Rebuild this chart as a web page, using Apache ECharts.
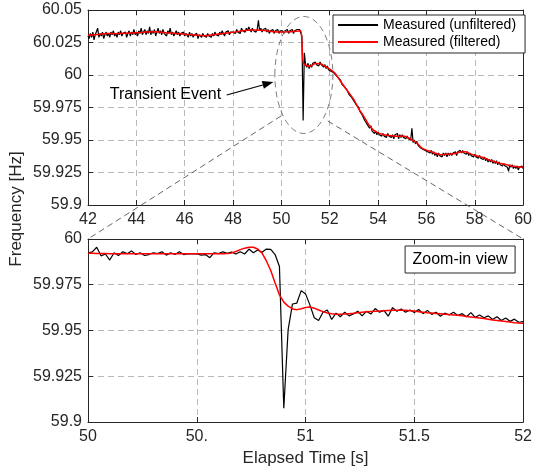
<!DOCTYPE html>
<html><head><meta charset="utf-8">
<script src="https://cdn.jsdelivr.net/npm/echarts@6/dist/echarts.min.js"></script>
<style>html,body{margin:0;padding:0;background:#fff}#c{width:535px;height:472px}</style>
</head><body><div id="c"></div>
<script>
// ---------------- data ----------------
const seriesNames = ['Measured (unfiltered)', 'Measured (filtered)'];
const yAxisTitle = 'Frequency [Hz]';
const xAxisTitle = 'Elapsed Time [s]';
const annotationText = 'Transient Event';
const zoomBoxText = 'Zoom-in view';

// overview: unfiltered samples every 0.05 s from 42 s
const topStart = 42, topStep = 0.05;
const topUnfiltered = [
60.030,60.028,60.032,60.029,60.033,60.027,60.031,60.030,60.036,60.029,60.032,60.030,60.033,60.028,60.031,60.033,60.030,60.032,60.029,60.033,
60.031,60.034,60.030,60.032,60.029,60.033,60.031,60.034,60.030,60.032,60.031,60.033,60.029,60.032,60.034,60.030,60.033,60.031,60.035,60.031,
60.033,60.030,60.034,60.032,60.036,60.031,60.033,60.035,60.031,60.034,60.032,60.037,60.031,60.034,60.032,60.035,60.030,60.033,60.036,60.032,
60.034,60.031,60.035,60.032,60.033,60.030,60.034,60.032,60.036,60.031,60.033,60.030,60.032,60.034,60.031,60.033,60.030,60.032,60.031,60.033,
60.030,60.032,60.031,60.029,60.033,60.030,60.032,60.029,60.031,60.030,60.032,60.028,60.031,60.030,60.029,60.032,60.030,60.031,60.029,60.032,
60.030,60.031,60.029,60.032,60.030,60.033,60.031,60.032,60.030,60.033,60.031,60.034,60.032,60.030,60.033,60.032,60.034,60.031,60.033,60.032,
60.033,60.034,60.032,60.035,60.033,60.034,60.032,60.036,60.034,60.035,60.033,60.036,60.034,60.037,60.035,60.033,60.036,60.034,60.035,60.033,
60.035,60.042,60.034,60.036,60.033,60.035,60.034,60.036,60.033,60.035,60.032,60.034,60.033,60.035,60.032,60.034,60.033,60.035,60.032,60.034,
60.033,60.034,60.032,60.034,60.033,60.035,60.032,60.034,60.033,60.035,60.032,60.034,60.033,60.035,60.034,60.035,60.036,60.030,59.965,60.017,
60.008,60.006,60.009,60.005,60.008,60.006,60.009,60.008,60.010,60.008,60.009,60.007,60.010,60.008,60.009,60.006,60.008,60.005,60.007,60.004,
60.005,60.003,60.004,60.002,60.003,60.000,60.001,59.998,59.997,59.996,59.993,59.994,59.991,59.991,59.989,59.988,59.985,59.986,59.983,59.983,
59.980,59.980,59.977,59.976,59.975,59.972,59.971,59.969,59.968,59.965,59.966,59.962,59.963,59.959,59.961,59.957,59.958,59.955,59.957,59.954,
59.956,59.954,59.955,59.953,59.955,59.953,59.954,59.952,59.955,59.953,59.954,59.952,59.954,59.951,59.954,59.953,59.955,59.951,59.954,59.952,
59.954,59.952,59.953,59.951,59.953,59.951,59.952,59.950,59.959,59.948,59.950,59.947,59.949,59.946,59.947,59.944,59.945,59.943,59.944,59.942,
59.943,59.941,59.942,59.940,59.942,59.939,59.941,59.938,59.940,59.937,59.940,59.938,59.939,59.937,59.940,59.938,59.940,59.937,59.940,59.938,
59.940,59.938,59.940,59.939,59.941,59.938,59.941,59.940,59.942,59.940,59.942,59.940,59.941,59.939,59.941,59.938,59.940,59.938,59.939,59.937,
59.939,59.937,59.938,59.936,59.938,59.936,59.937,59.935,59.937,59.934,59.936,59.933,59.935,59.933,59.935,59.932,59.934,59.932,59.934,59.931,
59.933,59.931,59.932,59.930,59.932,59.930,59.931,59.929,59.926,59.931,59.929,59.931,59.928,59.930,59.928,59.930,59.927,59.929,59.928,59.930,
59.928
];

// overview: filtered curve
const topFilteredT = [42,42.4,42.8,43.2,43.6,44,44.4,44.8,45.2,45.6,46,46.4,46.8,47.2,47.6,48,48.4,48.8,49.2,49.6,50,50.4,
50.7,50.8,50.85,50.9,51,
51.2,51.4,51.6,51.8,52,52.2,52.4,52.6,52.8,53,53.2,53.4,53.6,53.8,54,54.2,54.4,54.6,54.8,55,55.2,55.4,55.6,55.8,56,
56.2,56.4,56.6,56.8,57,57.2,57.4,57.6,57.8,58,58.2,58.4,58.6,58.8,59,59.2,59.4,59.6,59.8,60];
const topFiltered = [60.0305,60.0312,60.0320,60.0318,60.0322,60.0325,60.0330,60.0332,60.0325,60.0320,60.0314,60.0307,60.0302,60.0310,60.0320,60.0328,60.0340,60.0346,60.0345,60.0335,60.0331,60.0332,
60.0338,60.0340,60.0250,60.0100,60.0075,
60.0068,60.0088,60.0086,60.0068,60.0045,60.0018,59.9965,59.9912,59.9862,59.9810,59.9740,59.9685,59.9622,59.9578,59.9555,59.9543,59.9536,59.9532,59.9528,59.9530,59.9523,59.9500,59.9478,59.9440,59.9422,
59.9410,59.9396,59.9387,59.9390,59.9392,59.9396,59.9408,59.9410,59.9395,59.9382,59.9372,59.9362,59.9345,59.9335,59.9322,59.9315,59.9306,59.9298,59.9294,59.9288];

// zoom-in view: samples every 0.02 s from 50 s
const zoomStart = 50, zoomStep = 0.02;
const zoomUnfiltered = [
59.9925,59.9930,59.9955,59.9908,59.9918,59.9885,59.9925,59.9910,59.9930,59.9920,
59.9935,59.9915,59.9925,59.9910,59.9915,59.9925,59.9920,59.9930,59.9912,59.9925,
59.9915,59.9930,59.9915,59.9920,59.9918,59.9920,59.9912,59.9915,59.9898,59.9925,
59.9920,59.9930,59.9922,59.9928,59.9918,59.9930,59.9918,59.9945,59.9925,59.9940,
59.9928,59.9945,59.9943,59.9915,59.9850,59.9075,59.9505,59.9645,59.9650,59.9718,
59.9700,59.9640,59.9570,59.9555,59.9600,59.9612,59.9560,59.9595,59.9575,59.9600,
59.9580,59.9590,59.9605,59.9580,59.9605,59.9590,59.9620,59.9600,59.9610,59.9578,
59.9625,59.9605,59.9618,59.9600,59.9612,59.9598,59.9615,59.9592,59.9610,59.9588,
59.9600,59.9578,59.9595,59.9585,59.9600,59.9582,59.9592,59.9575,59.9598,59.9572,
59.9585,59.9570,59.9580,59.9560,59.9575,59.9555,59.9568,59.9550,59.9562,59.9545,
59.9548];
const zoomFiltered = [
59.9922,59.9922,59.9921,59.9921,59.9921,59.9920,59.9920,59.9920,59.9920,59.9920,
59.9920,59.9920,59.9920,59.9920,59.9920,59.9920,59.9920,59.9920,59.9920,59.9920,
59.9920,59.9920,59.9920,59.9920,59.9920,59.9920,59.9920,59.9920,59.9920,59.9920,
59.9920,59.9920,59.9921,59.9924,59.9932,59.9942,59.9950,59.9955,59.9955,59.9945,
59.9923,59.9880,59.9828,59.9760,59.9695,59.9655,59.9633,59.9618,59.9614,59.9619,
59.9626,59.9628,59.9622,59.9612,59.9603,59.9596,59.9591,59.9589,59.9589,59.9590,
59.9592,59.9594,59.9597,59.9600,59.9602,59.9604,59.9605,59.9606,59.9608,59.9609,
59.9610,59.9611,59.9611,59.9610,59.9608,59.9606,59.9603,59.9600,59.9597,59.9595,
59.9593,59.9591,59.9589,59.9587,59.9585,59.9583,59.9580,59.9577,59.9574,59.9571,
59.9568,59.9565,59.9562,59.9558,59.9555,59.9552,59.9549,59.9546,59.9543,59.9541,
59.9540];
const zoomXLabels = ['50', '50.', '51', '51.5', '52'];

// annotation anchors (data coordinates of the overview)
const ellipseCenter = [50.93, 60.0], ellipseRx = 1.2, ellipseRy = 0.045;
const arrowTail = [47.74, 59.9846], arrowTip = [49.67, 59.9946];
const labelAnchor = [42.9, 59.9846];
const linkLeftFrom = [49.99, 59.9685], linkRightFrom = [51.92, 59.9646];

// ---------------- chart ----------------
const font = "'Liberation Sans', Arial, Helvetica, sans-serif";
const ink = '#262626';
const gridCol = '#b8b8b8';
const fmt = v => String(parseFloat(v.toFixed(4)));

const topBlack = topUnfiltered.map((f, i) => [+(topStart + i * topStep).toFixed(2), f]);
const topRed = topFilteredT.map((t, i) => [t, topFiltered[i]]);
const zoomBlack = zoomUnfiltered.map((f, i) => [+(zoomStart + i * zoomStep).toFixed(2), f]);
const zoomRed = zoomFiltered.map((f, i) => [+(zoomStart + i * zoomStep).toFixed(2), f]);

function mainX(grid, min, max, interval, fmtFn, extra) {
  return Object.assign({
    gridIndex: grid, type: 'value', min, max, interval, position: 'bottom',
    axisLine: { onZero: false, lineStyle: { color: ink, width: 1 } },
    axisTick: { inside: true, length: 5, lineStyle: { color: ink } },
    axisLabel: { fontSize: 16, color: ink, margin: 7, fontFamily: font, formatter: fmtFn },
    splitLine: { show: true, lineStyle: { color: gridCol, type: [6, 4], width: 1 } }
  }, extra || {});
}
function mirrorX(grid, min, max, interval) {
  return { gridIndex: grid, type: 'value', min, max, interval, position: 'top',
    axisLine: { onZero: false, lineStyle: { color: ink, width: 1 } },
    axisTick: { inside: true, length: 5, lineStyle: { color: ink } },
    axisLabel: { show: false }, splitLine: { show: false } };
}
function mainY(grid, min, max, interval) {
  return { gridIndex: grid, type: 'value', min, max, interval, position: 'left',
    axisLine: { onZero: false, lineStyle: { color: ink, width: 1 } },
    axisTick: { inside: true, length: 5, lineStyle: { color: ink } },
    axisLabel: { fontSize: 16, color: ink, margin: 6, fontFamily: font, formatter: fmt },
    splitLine: { show: true, lineStyle: { color: gridCol, type: [6, 4], width: 1 } } };
}
function mirrorY(grid, min, max, interval) {
  return { gridIndex: grid, type: 'value', min, max, interval, position: 'right',
    axisLine: { onZero: false, lineStyle: { color: ink, width: 1 } },
    axisTick: { inside: true, length: 5, lineStyle: { color: ink } },
    axisLabel: { show: false }, splitLine: { show: false } };
}

const chart = echarts.init(document.getElementById('c'), null, { renderer: 'canvas' });
const option = {
  animation: false,
  backgroundColor: '#fff',
  textStyle: { fontFamily: font },
  grid: [
    { left: 88, top: 10, width: 439, height: 195 },
    { left: 88, top: 239, width: 439, height: 183 }
  ],
  xAxis: [
    mainX(0, 42, 60, 2, fmt),
    mirrorX(0, 42, 60, 2),
    mainX(1, 50, 52, 0.5, v => zoomXLabels[Math.round((v - 50) / 0.5)], {
      name: xAxisTitle, nameLocation: 'middle', nameGap: 28,
      nameTextStyle: { fontSize: 17, color: ink, fontFamily: font }
    }),
    mirrorX(1, 50, 52, 0.5)
  ],
  yAxis: [
    mainY(0, 59.9, 60.05, 0.025),
    mirrorY(0, 59.9, 60.05, 0.025),
    mainY(1, 59.9, 60, 0.025),
    mirrorY(1, 59.9, 60, 0.025)
  ],
  legend: {
    data: seriesNames, orient: 'vertical', left: 333, top: 15,
    padding: [3, 9, 4, 4], itemWidth: 40, itemHeight: 14, itemGap: 3,
    backgroundColor: '#fff', borderColor: ink, borderWidth: 1, borderRadius: 0,
    itemStyle: { opacity: 0 },
    textStyle: { fontSize: 14, color: '#000', fontFamily: font, lineHeight: 14 },
    selectedMode: false
  },
  series: [
    { name: seriesNames[0], type: 'line', xAxisIndex: 0, yAxisIndex: 0, data: topBlack,
      symbol: 'none', lineStyle: { color: '#000', width: 1.2 }, itemStyle: { color: '#000' }, silent: true },
    { name: seriesNames[1], type: 'line', xAxisIndex: 0, yAxisIndex: 0, data: topRed, smooth: 0.3,
      symbol: 'none', lineStyle: { color: '#ff0000', width: 1.5 }, itemStyle: { color: '#ff0000' }, silent: true },
    { name: seriesNames[0], type: 'line', xAxisIndex: 2, yAxisIndex: 2, data: zoomBlack,
      symbol: 'none', lineStyle: { color: '#000', width: 1.2 }, itemStyle: { color: '#000' }, silent: true },
    { name: seriesNames[1], type: 'line', xAxisIndex: 2, yAxisIndex: 2, data: zoomRed,
      symbol: 'none', lineStyle: { color: '#ff0000', width: 1.5 }, itemStyle: { color: '#ff0000' }, silent: true }
  ]
};
chart.setOption(option);

// ---------------- annotations ----------------
const P0 = v => chart.convertToPixel({ gridIndex: 0 }, v);
const P1 = v => chart.convertToPixel({ gridIndex: 1 }, v);
const c = P0(ellipseCenter);
const rx = P0([ellipseCenter[0] + ellipseRx, ellipseCenter[1]])[0] - c[0];
const ry = c[1] - P0([ellipseCenter[0], ellipseCenter[1] + ellipseRy])[1];
const tail = P0(arrowTail), tip = P0(arrowTip);
const dx = tip[0] - tail[0], dy = tip[1] - tail[1], len = Math.hypot(dx, dy);
const ux = dx / len, uy = dy / len, headL = 11, headW = 4;
const base = [tip[0] - ux * headL, tip[1] - uy * headL];
const lab = P0(labelAnchor);
const lf = P0(linkLeftFrom), lt = P1([50, 60]);
const rf = P0(linkRightFrom), rt = P1([52, 60]);
const boxRight = P1([52, 60]);
const dash = { stroke: '#555', lineWidth: 0.9, lineDash: [6, 4], fill: null };

chart.setOption({
  graphic: [
    { type: 'ellipse', z: 50, silent: true, shape: { cx: c[0], cy: c[1], rx: rx, ry: ry },
      style: { stroke: '#6e6e6e', lineWidth: 0.9, lineDash: [6, 4], fill: null } },
    { type: 'line', z: 50, silent: true, shape: { x1: lf[0], y1: lf[1], x2: lt[0], y2: lt[1] }, style: dash },
    { type: 'line', z: 50, silent: true, shape: { x1: rf[0], y1: rf[1], x2: rt[0], y2: rt[1] }, style: dash },
    { type: 'line', z: 50, silent: true, shape: { x1: tail[0], y1: tail[1], x2: base[0], y2: base[1] },
      style: { stroke: '#000', lineWidth: 1.2 } },
    { type: 'polygon', z: 50, silent: true,
      shape: { points: [tip, [base[0] - uy * headW, base[1] + ux * headW], [base[0] + uy * headW, base[1] - ux * headW]] },
      style: { fill: '#000' } },
    { type: 'text', z: 50, silent: true, x: lab[0], y: lab[1],
      style: { text: annotationText, font: '16px ' + font, fill: '#000', align: 'left', verticalAlign: 'middle' } },
    { type: 'rect', z: 50, silent: true, shape: { x: boxRight[0] - 118, y: boxRight[1] + 7, width: 110, height: 27 },
      style: { fill: '#fff', stroke: ink, lineWidth: 1 } },
    { type: 'text', z: 51, silent: true, x: boxRight[0] - 63, y: boxRight[1] + 20.5,
      style: { text: zoomBoxText, font: '16px ' + font, fill: '#000', align: 'center', verticalAlign: 'middle' } },
    { type: 'text', z: 50, silent: true, x: 16, y: 209, rotation: Math.PI / 2,
      style: { text: yAxisTitle, font: '17px ' + font, fill: ink, align: 'center', verticalAlign: 'middle' } }
  ]
});
</script>
</body></html>
